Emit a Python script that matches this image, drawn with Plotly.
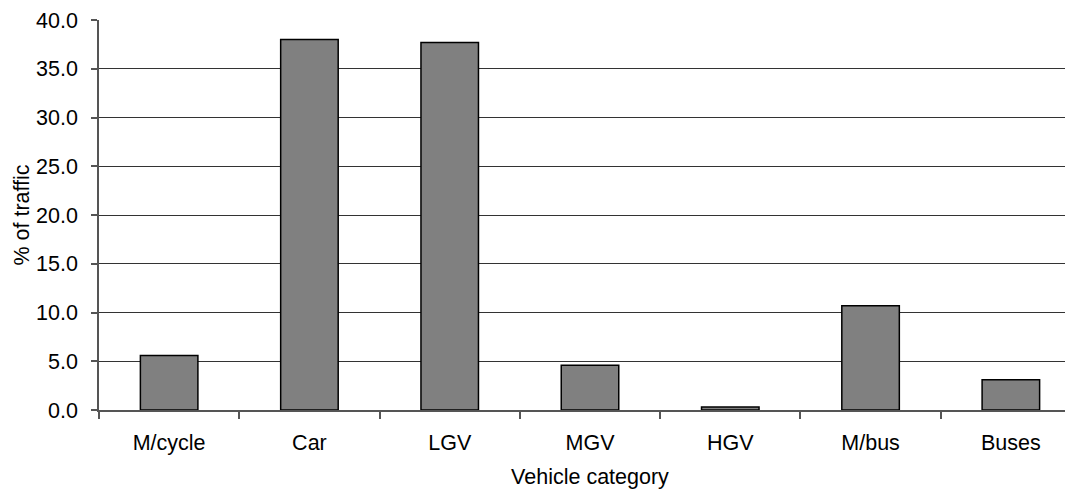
import plotly.graph_objects as go

categories = ["M/cycle", "Car", "LGV", "MGV", "HGV", "M/bus", "Buses"]
values = [5.6, 38.0, 37.7, 4.6, 0.3, 10.7, 3.1]
y_ticks = [0, 5, 10, 15, 20, 25, 30, 35, 40]

font_family = "Liberation Sans, Arial, sans-serif"

fig = go.Figure(
    go.Bar(
        x=list(range(len(categories))),
        y=values,
        marker=dict(color="#808080", line=dict(color="#000000", width=1.5)),
        width=0.41,
    )
)

fig.update_layout(
    width=1073,
    height=491,
    margin=dict(l=91, r=0, t=12, b=89, autoexpand=False),
    paper_bgcolor="white",
    plot_bgcolor="white",
    font=dict(family=font_family, size=21.5, color="#000000"),
    showlegend=False,
)

fig.update_xaxes(
    range=[-0.5, 6.5],
    tickmode="array",
    tickvals=list(range(len(categories))),
    ticktext=categories,
    ticks="",
    ticklabelstandoff=12,
    showline=True,
    linecolor="#555555",
    linewidth=1.5,
    showgrid=False,
    zeroline=False,
    automargin=False,
    title=dict(text="Vehicle category", font=dict(size=21.5), standoff=15),
    tickfont=dict(size=21.5),
)

fig.update_xaxes(
    minor=dict(
        tickmode="array",
        tickvals=[i + 0.5 for i in range(-1, len(categories))],
        ticks="outside",
        ticklen=7,
        tickcolor="#555555",
        tickwidth=1.5,
        showgrid=False,
    )
)

fig.update_yaxes(
    range=[0, 40],
    tickmode="array",
    tickvals=y_ticks,
    tickformat=".1f",
    ticks="outside",
    ticklen=6,
    tickcolor="#555555",
    tickwidth=1.5,
    ticklabelstandoff=9,
    showline=True,
    linecolor="#555555",
    linewidth=1.5,
    showgrid=True,
    gridcolor="#333333",
    gridwidth=1,
    zeroline=False,
    automargin=False,
    title=dict(text="% of traffic", font=dict(size=21.5), standoff=1),
    tickfont=dict(size=21.5),
)

fig.write_html("out.html")
